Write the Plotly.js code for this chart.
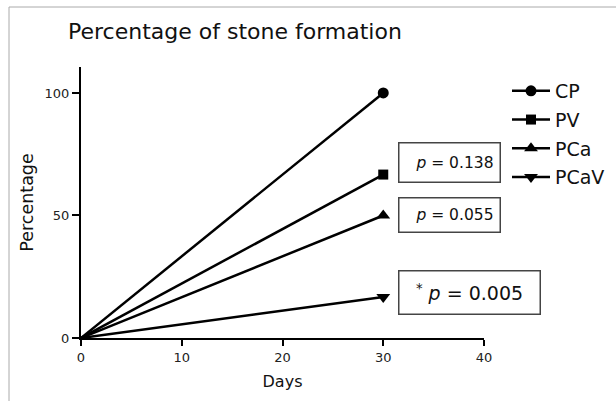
<!DOCTYPE html>
<html>
<head>
<meta charset="utf-8">
<script src="https://cdn.plot.ly/plotly-3.0.1.min.js"></script>
<style>html,body{margin:0;padding:0;background:#fff;}#chart{width:616px;height:401px;}</style>
</head>
<body>
<div id="chart"></div>
<script>
const days = [0, 30];
const seriesNames = ['CP', 'PV', 'PCa', 'PCaV'];
const cpValues = [0, 100];
const pvValues = [0, 66.7];
const pcaValues = [0, 50];
const pcavValues = [0, 16.7];
const markerSymbols = ['circle', 'square', 'triangle-up', 'triangle-down'];
const pLabels = ['<i>p</i> = 0.138', '<i>p</i> = 0.055', '<sup>*</sup> <i>p</i> = 0.005'];
const xTicks = [0, 10, 20, 30, 40];
const yTicks = [0, 50, 100];

const allValues = [cpValues, pvValues, pcaValues, pcavValues];
const markerSizes = [11, 10, 12, 12];
const font = 'DejaVu Sans, Arial, sans-serif';

const traces = [];
allValues.forEach((vals, i) => {
  traces.push({
    x: days, y: vals, name: seriesNames[i], legendgroup: 'g' + i, showlegend: false,
    mode: 'lines', line: {color: '#000', width: 2.5}, cliponaxis: false
  });
});
allValues.forEach((vals, i) => {
  traces.push({
    x: days.slice(1), y: vals.slice(1), name: seriesNames[i], legendgroup: 'g' + i,
    mode: 'lines+markers', line: {color: '#000', width: 2.5},
    marker: {symbol: markerSymbols[i], size: markerSizes[i], color: '#000'},
    cliponaxis: false
  });
});

const px2x = p => (p - 81) / 403;
const px2y = p => (338 - p) / 271;

const annBox = (label, left, top, w, h, size, align) => ({
  xref: 'paper', yref: 'paper',
  x: px2x(left), y: px2y(top),
  xanchor: 'left', yanchor: 'top',
  text: label, showarrow: false,
  width: w, height: h, align: align, valign: 'middle',
  bordercolor: '#444', borderwidth: 1.5, borderpad: 6,
  font: {family: font, size: size, color: '#111'}
});

const layout = {
  width: 616, height: 401,
  margin: {l: 81, r: 132, t: 67, b: 63, autoexpand: false},
  paper_bgcolor: '#fff', plot_bgcolor: '#fff',
  title: {text: 'Percentage of stone formation', x: 68/616, xanchor: 'left', y: 1 - 31/401, yanchor: 'middle',
    font: {family: font, size: 22, color: '#111'}},
  xaxis: {
    range: [0, 40], tickvals: xTicks, ticks: 'outside', ticklen: 6, tickwidth: 2, tickcolor: '#000',
    showline: true, linecolor: '#000', linewidth: 2, showgrid: false, zeroline: false,
    tickfont: {family: font, size: 13, color: '#222'},
    title: {text: 'Days', font: {family: font, size: 16, color: '#111'}, standoff: 12}
  },
  yaxis: {
    range: [0, 110.6], tickvals: yTicks, ticks: 'outside', ticklen: 7, tickwidth: 2, tickcolor: '#000',
    showline: true, linecolor: '#000', linewidth: 2, showgrid: false, zeroline: false,
    tickfont: {family: font, size: 13, color: '#222'},
    title: {text: 'Percentage', font: {family: font, size: 17.5, color: '#111'}, standoff: 6}
  },
  showlegend: true,
  legend: {x: px2x(507), y: px2y(72), xanchor: 'left', yanchor: 'top', tracegroupgap: 1, itemwidth: 38,
    font: {family: font, size: 19, color: '#111'}, bgcolor: 'rgba(0,0,0,0)'},
  annotations: [
    annBox(pLabels[0], 398, 142, 88, 26, 15.5, 'right'),
    annBox(pLabels[1], 398, 197, 88, 21, 15.5, 'right'),
    annBox(pLabels[2], 398, 270, 128, 30, 19, 'center')
  ],
  shapes: [
    {type: 'line', xref: 'paper', yref: 'paper', x0: px2x(9), x1: px2x(9), y0: px2y(7), y1: px2y(405), line: {color: '#aaa', width: 1}},
    {type: 'line', xref: 'paper', yref: 'paper', x0: px2x(9), x1: px2x(620), y0: px2y(7), y1: px2y(7), line: {color: '#aaa', width: 1}}
  ]
};

Plotly.newPlot('chart', traces, layout, {displayModeBar: false, staticPlot: true});
</script>
</body>
</html>
